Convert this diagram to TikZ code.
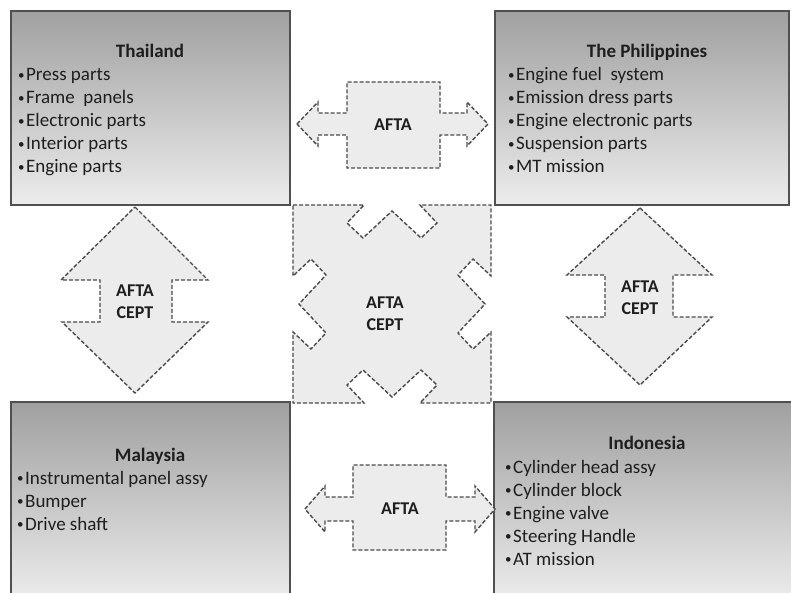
\documentclass[tikz,border=0pt]{standalone}
\usepackage{fontspec}
\setmainfont{Carlito}
\definecolor{boxtop}{RGB}{160,160,160}
\definecolor{boxbot}{RGB}{236,236,236}
\definecolor{boxline}{RGB}{80,80,80}
\definecolor{arrline}{RGB}{75,75,75}
\definecolor{arrfill}{RGB}{236,236,236}
\definecolor{txt}{RGB}{30,30,30}
\newcommand\mybul{{\fontsize{13}{13}\selectfont\raisebox{1.5pt}{•}}\hspace{1.5pt}}
\begin{document}
\begin{tikzpicture}[x=1pt,y=-1pt,
  country/.style={draw=boxline, line width=1.8pt, top color=boxtop, bottom color=boxbot},
  flow/.style={draw=arrline, fill=arrfill, line width=1.4pt, dash pattern=on 4pt off 2pt, line join=miter},
  ctitle/.style={font=\fontsize{19}{23}\selectfont\bfseries, text=txt, inner sep=0pt, anchor=base},
  item/.style={font=\fontsize{19}{23}\selectfont, text=txt, inner sep=0pt, anchor=base west},
  lbl/.style={font=\fontsize{18}{22}\selectfont\bfseries, text=txt, align=center, inner sep=0pt}]
\useasboundingbox (0,0) rectangle (791,593);
\fill[white] (0,0) rectangle (791,593);

% country boxes
\path[country] (11,11) rectangle (290,205);
\path[country] (495,11) rectangle (789,205);
\path[country] (11,402) rectangle (290,600);
\path[country] (494,402) rectangle (800,600);

% AFTA arrows
\path[flow] (297,124) -- (318,102) -- (318,113) -- (347,113) -- (347,82) -- (440,82) -- (440,113) -- (467,113) -- (467,102) -- (488,124) -- (467,146) -- (467,135) -- (440,135) -- (440,168) -- (347,168) -- (347,135) -- (318,135) -- (318,146) -- cycle;
\path[flow] (305,509) -- (325,486) -- (325,497) -- (353,497) -- (353,465) -- (446,465) -- (446,497) -- (475,497) -- (475,486) -- (495,509) -- (475,532) -- (475,521) -- (446,521) -- (446,550) -- (353,550) -- (353,521) -- (325,521) -- (325,532) -- cycle;
\path[flow] (135,207) -- (208,280) -- (172,280) -- (172,322) -- (208,322) -- (135,393) -- (62,322) -- (100,322) -- (100,280) -- (61,280) -- cycle;
\path[flow] (640,208) -- (712,275) -- (673,275) -- (673,317) -- (712,317) -- (640,385) -- (567,317) -- (605,317) -- (605,275) -- (567,275) -- cycle;

% central shape
\path[flow] (293,205) -- (364,205) -- (347,223) -- (363,238) -- (392,211) -- (421,238) -- (437,223) -- (420,205)
  -- (491,205) -- (491,276) -- (473,259) -- (458,275) -- (485,304) -- (458,333) -- (473,349) -- (491,332)
  -- (491,403) -- (420,403) -- (437,385) -- (421,370) -- (392,397) -- (363,370) -- (347,385) -- (364,403)
  -- (293,403) -- (293,332) -- (311,349) -- (326,333) -- (299,304) -- (326,275) -- (311,259) -- (293,276) -- cycle;

% labels
\node[lbl] (aftatop) at (393,125) {AFTA};
\node[lbl] (aftabot) at (400,509) {AFTA};
\node[lbl] (leftlbl) at (135,302) {AFTA\\CEPT};
\node[lbl] (rightlbl) at (640,298) {AFTA\\CEPT};
\node[lbl] (centerlbl) at (385,314) {AFTA\\CEPT};

% Thailand
\node[ctitle] (th) at (150,58) {Thailand};
\node[item] (th1) at (18,81) {\mybul Press parts};
\node[item] (th2) at (18,104) {\mybul Frame\ \ panels};
\node[item] (th3) at (18,127) {\mybul Electronic parts};
\node[item] (th4) at (18,150) {\mybul Interior parts};
\node[item] (th5) at (18,173) {\mybul Engine parts};

% Philippines
\node[ctitle] (ph) at (647,58) {The Philippines};
\node[item] (ph1) at (508,81) {\mybul Engine fuel\ \ system};
\node[item] (ph2) at (508,104) {\mybul Emission dress parts};
\node[item] (ph3) at (508,127) {\mybul Engine electronic parts};
\node[item] (ph4) at (508,150) {\mybul Suspension parts};
\node[item] (ph5) at (508,173) {\mybul MT mission};

% Malaysia
\node[ctitle] (my) at (150,461) {Malaysia};
\node[item] (my1) at (17,484) {\mybul Instrumental panel assy};
\node[item] (my2) at (17,507) {\mybul Bumper};
\node[item] (my3) at (17,530) {\mybul Drive shaft};

% Indonesia
\node[ctitle] (id) at (647,449) {Indonesia};
\node[item] (id1) at (505,473) {\mybul Cylinder head assy};
\node[item] (id2) at (505,496) {\mybul Cylinder block};
\node[item] (id3) at (505,519) {\mybul Engine valve};
\node[item] (id4) at (505,542) {\mybul Steering Handle};
\node[item] (id5) at (505,565) {\mybul AT mission};
\end{tikzpicture}
\end{document}
